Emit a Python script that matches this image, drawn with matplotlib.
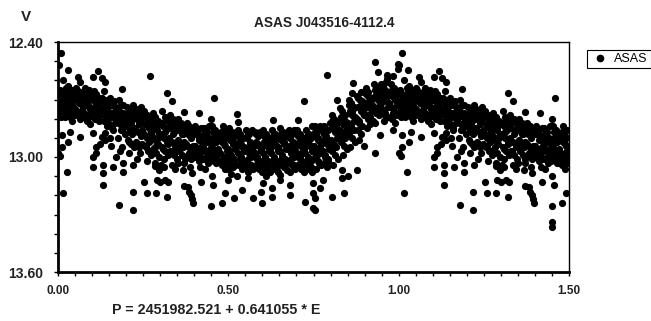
import numpy as np
import matplotlib.pyplot as plt
from matplotlib.lines import Line2D
from matplotlib.ticker import FixedLocator, MultipleLocator, FormatStrFormatter

# ---------------------------------------------------------------
# Data: phased V light curve, phase 0-1
# ---------------------------------------------------------------
title = "ASAS J043516-4112.4"
ephemeris = "P = 2451982.521 + 0.641055 * E"
series_name = "ASAS"
x_ticks = [0.0, 0.5, 1.0, 1.5]
y_ticks = [12.40, 13.00, 13.60]

# outer / scattered observations
phase = [
    .002, .009, .016, .004, .010, .018, .006, .013, .021, .003, .015, .023, .008, .020, .011, .011, .001, .006, .016, .024,
    .028, .030, .033, .027, .040, .045, .037, .030, .043, .048, .035, .042, .035, .030, .025, .047,
    .060, .065, .052, .058, .070, .055, .063, .072, .051, .068, .074, .057, .066, .065, .073,
    .078, .085, .092, .080, .088, .097, .083, .094, .077, .090, .099, .086, .095,
    .104, .118, .107, .112, .120, .102, .116, .109, .123, .105, .114, .121, .104, .113, .113, .104, .104, .123,
    .128, .138, .136, .131, .140, .146, .127, .135, .148, .143, .138, .128, .138, .133, .133, .133, .145,
    .152, .158, .165, .170, .155, .162, .172, .150, .160, .154, .168, .162, .170, .157,
    .187, .180, .192, .178, .185, .195, .182, .190, .198, .177, .183, .188, .192, .192, .180,
    .203, .212, .220, .206, .215, .224, .201, .210, .218, .205, .214, .222, .209, .221, .219, .219,
    .228, .236, .244, .231, .240, .248, .226, .235, .243, .230, .239, .247, .241, .233,
    .253, .262, .271, .256, .266, .274, .252, .260, .268, .257, .265, .273, .261, .253, .260,
    .278, .286, .295, .281, .290, .298, .276, .284, .293, .280, .289, .297, .285, .285, .296, .290, .287,
    .320, .305, .313, .322, .308, .317, .302, .311, .320, .306, .315, .324, .310, .303, .310, .300, .315, .324, .321,
    .335, .328, .338, .346, .331, .341, .349, .327, .336, .344, .330, .340, .348, .335, .344,
    .371, .353, .362, .370, .356, .366, .374, .352, .360, .368, .355, .364, .372, .351, .370, .368, .370,
    .378, .385, .393, .381, .389, .398, .377, .386, .395, .383, .391, .399, .387, .392, .382, .386, .390, .394, .397,
    .415, .403, .411, .420, .406, .415, .423, .401, .409, .418, .405, .413, .422, .417, .420,
    .449, .428, .436, .444, .431, .440, .448, .427, .435, .443, .430, .439, .447, .431, .449,
    .459, .453, .462, .470, .456, .465, .473, .452, .460, .468, .455, .464, .472, .451, .456,
    .483, .478, .487, .495, .481, .490, .498, .477, .486, .494, .480, .489, .497, .490, .480,
    .524, .503, .511, .519, .506, .514, .522, .501, .509, .517, .505, .513, .521, .500, .508, .500, .517,
    .529, .527, .535, .543, .530, .538, .546, .528, .536, .544, .532, .541, .549, .525, .539,
    .553, .561, .569, .556, .564, .572, .552, .560, .568, .555, .563, .571, .558, .557, .573,
    .578, .586, .594, .580, .589, .597, .577, .585, .593, .582, .590, .598, .596, .598,
    .603, .611, .619, .606, .614, .622, .601, .609, .617, .605, .613, .621, .603, .610,
    .632, .628, .636, .644, .631, .639, .647, .626, .634, .642, .630, .638, .646, .627, .627,
    .653, .661, .669, .656, .664, .672, .651, .659, .667, .655, .663, .671, .652, .652,
    .678, .686, .694, .681, .689, .697, .677, .685, .693, .680, .688, .696, .681, .681, .682,
    .722, .705, .703, .711, .719, .706, .714, .722, .701, .709, .717, .705, .713, .721, .725,
    .745, .728, .736, .744, .731, .739, .747, .726, .734, .742, .730, .738, .746, .749, .749, .749,
    .753, .761, .769, .756, .764, .772, .752, .760, .768, .755, .763, .771, .758, .769, .754, .754,
    .789, .780, .797, .778, .786, .794, .781, .789, .797, .777, .785, .793, .782, .790, .779,
    .818, .803, .811, .819, .806, .814, .822, .801, .809, .817, .805, .813, .821, .808, .803,
    .828, .835, .843, .830, .838, .846, .827, .834, .842, .849, .831, .839, .847, .836, .833, .833, .840,
    .867, .864, .853, .861, .869, .856, .864, .872, .852, .860, .868, .855, .863, .871, .858, .852,
    .890, .878, .886, .894, .881, .889, .897, .877, .885, .893, .880, .888, .898, .877, .883,
    .910, .903, .911, .919, .906, .914, .922, .901, .909, .917, .924, .906, .915,
    .930, .938, .928, .936, .944, .931, .939, .947, .927, .935, .943, .930, .945, .930, .948,
    .965, .965, .963, .953, .960, .968, .955, .963, .971, .952, .960, .968, .956, .973,
    .984, .999, .997, .978, .986, .994, .981, .989, .997, .977, .985, .993, .980, .988, .984,
]

mag = [
    12.52, 12.456, 12.60, 12.66, 12.68, 12.70, 12.72, 12.74, 12.67, 12.76, 12.77, 12.73, 12.79, 12.79, 12.885, 12.946, 12.98, 12.995, 13.19, 12.64,
    12.546, 12.63, 12.66, 12.69, 12.65, 12.70, 12.72, 12.75, 12.74, 12.77, 12.79, 12.81, 12.87, 12.92, 13.08, 12.68,
    12.58, 12.61, 12.64, 12.67, 12.66, 12.70, 12.72, 12.70, 12.75, 12.76, 12.74, 12.78, 12.80, 12.894, 12.79,
    12.64, 12.66, 12.65, 12.69, 12.71, 12.68, 12.73, 12.74, 12.77, 12.78, 12.76, 12.81, 12.83,
    12.58, 12.55, 12.654, 12.67, 12.69, 12.70, 12.72, 12.74, 12.75, 12.77, 12.79, 12.81, 12.876, 12.946, 12.98, 13.00, 13.05, 12.93,
    12.59, 12.61, 12.656, 12.70, 12.72, 12.74, 12.76, 12.78, 12.80, 12.84, 12.875, 12.894, 12.91, 13.04, 13.085, 13.146, 12.70,
    12.69, 12.72, 12.71, 12.75, 12.77, 12.79, 12.80, 12.83, 12.86, 12.90, 12.82, 13.054, 13.00, 12.94,
    12.645, 12.70, 12.73, 12.76, 12.78, 12.80, 12.83, 12.85, 12.88, 12.90, 12.97, 12.95, 13.03, 13.077, 13.25,
    12.74, 12.76, 12.73, 12.79, 12.81, 12.78, 12.84, 12.86, 12.88, 12.91, 12.93, 12.95, 12.98, 13.04, 13.18, 13.276,
    12.75, 12.77, 12.74, 12.80, 12.82, 12.79, 12.85, 12.87, 12.89, 12.92, 12.95, 12.93, 12.98, 13.01,
    12.76, 12.78, 12.80, 12.83, 12.85, 12.82, 12.88, 12.90, 12.92, 12.95, 12.97, 12.99, 13.02, 13.13, 13.19,
    12.77, 12.79, 12.81, 12.84, 12.86, 12.83, 12.89, 12.91, 12.93, 12.96, 12.98, 13.00, 13.03, 13.045, 13.07, 13.12, 13.19,
    12.668, 12.76, 12.79, 12.81, 12.84, 12.86, 12.88, 12.90, 12.92, 12.95, 12.97, 12.99, 13.01, 13.04, 13.05, 13.13, 13.12, 13.13, 13.21,
    12.71, 12.78, 12.80, 12.82, 12.85, 12.87, 12.84, 12.90, 12.92, 12.94, 12.97, 12.99, 13.01, 13.04, 13.06,
    12.764, 12.80, 12.82, 12.84, 12.86, 12.88, 12.86, 12.91, 12.93, 12.95, 12.97, 12.99, 13.01, 13.03, 13.03, 13.07, 13.15,
    12.82, 12.84, 12.86, 12.88, 12.90, 12.88, 12.93, 12.95, 12.97, 12.99, 13.01, 13.00, 13.05, 13.085, 13.155, 13.18, 13.20, 13.22, 13.24,
    12.77, 12.84, 12.86, 12.85, 12.88, 12.90, 12.92, 12.94, 12.96, 12.98, 13.00, 13.02, 13.01, 13.05, 13.13,
    12.80, 12.85, 12.87, 12.84, 12.89, 12.91, 12.93, 12.95, 12.97, 12.99, 13.01, 13.03, 13.02, 13.06, 13.255,
    12.69, 12.84, 12.86, 12.88, 12.90, 12.92, 12.90, 12.95, 12.97, 12.99, 13.01, 13.03, 13.02, 13.10, 13.146,
    12.84, 12.87, 12.89, 12.86, 12.92, 12.94, 12.96, 12.98, 13.00, 13.02, 13.04, 13.06, 13.03, 13.19, 13.24,
    12.776, 12.85, 12.87, 12.89, 12.91, 12.93, 12.95, 12.97, 12.99, 13.01, 13.03, 13.05, 13.04, 13.06, 13.09, 13.12, 13.215,
    12.816, 12.86, 12.88, 12.90, 12.92, 12.94, 12.96, 12.98, 13.00, 13.02, 13.04, 13.06, 13.05, 13.10, 13.17,
    12.86, 12.88, 12.86, 12.90, 12.92, 12.94, 12.96, 12.98, 13.00, 13.02, 13.04, 13.06, 13.08, 13.11, 13.215,
    12.87, 12.89, 12.87, 12.92, 12.94, 12.96, 12.98, 13.00, 13.02, 13.04, 13.06, 13.08, 13.18, 13.24,
    12.86, 12.88, 12.90, 12.92, 12.94, 12.96, 12.98, 13.00, 13.02, 13.04, 13.06, 13.08, 13.137, 13.10,
    12.807, 12.86, 12.88, 12.90, 12.92, 12.94, 12.96, 12.98, 13.00, 13.02, 13.04, 13.06, 13.08, 13.163, 13.207,
    12.85, 12.87, 12.89, 12.91, 12.93, 12.95, 12.97, 12.99, 13.01, 13.03, 13.05, 13.07, 13.094, 13.12,
    12.86, 12.88, 12.86, 12.90, 12.92, 12.94, 12.96, 12.98, 13.00, 13.02, 13.04, 13.06, 13.077, 13.146, 13.198,
    12.706, 12.807, 12.86, 12.88, 12.90, 12.92, 12.94, 12.96, 12.98, 13.00, 13.02, 13.04, 13.06, 13.08, 13.233,
    12.84, 12.86, 12.88, 12.90, 12.92, 12.94, 12.96, 12.98, 13.00, 13.02, 13.04, 13.06, 13.08, 13.137, 13.19, 13.268,
    12.84, 12.86, 12.84, 12.88, 12.90, 12.92, 12.94, 12.96, 12.98, 13.00, 13.02, 13.04, 13.06, 13.163, 13.215, 13.276,
    12.572, 12.84, 12.82, 12.87, 12.89, 12.86, 12.91, 12.93, 12.95, 12.97, 12.99, 13.01, 13.03, 13.05, 13.12,
    12.70, 12.78, 12.80, 12.82, 12.85, 12.87, 12.89, 12.91, 12.93, 12.95, 12.97, 12.99, 13.01, 13.04, 13.207,
    12.746, 12.76, 12.78, 12.80, 12.82, 12.84, 12.86, 12.88, 12.90, 12.87, 12.92, 12.94, 12.96, 12.99, 13.068, 13.11, 13.19,
    12.615, 12.668, 12.70, 12.72, 12.74, 12.76, 12.78, 12.80, 12.82, 12.84, 12.86, 12.88, 12.90, 12.92, 12.95, 13.10,
    12.66, 12.68, 12.70, 12.72, 12.74, 12.76, 12.78, 12.80, 12.82, 12.84, 12.86, 12.88, 12.94, 13.068, 12.91,
    12.66, 12.64, 12.68, 12.70, 12.72, 12.74, 12.76, 12.78, 12.80, 12.79, 12.81, 12.85, 12.83,
    12.503, 12.555, 12.62, 12.64, 12.66, 12.68, 12.70, 12.72, 12.74, 12.76, 12.78, 12.82, 12.885, 12.98, 12.62,
    12.57, 12.595, 12.61, 12.63, 12.65, 12.67, 12.69, 12.71, 12.73, 12.75, 12.77, 12.79, 12.81, 12.66,
    12.577, 12.515, 12.54, 12.62, 12.64, 12.66, 12.68, 12.70, 12.72, 12.74, 12.76, 12.78, 12.80, 12.82, 12.86,
]

# observations in the crowded core of the curve
core_phase = [
    .005, .013, .020, .009, .017, .022,
    .030, .038, .045, .034, .042, .047,
    .055, .063, .070, .059, .067, .072,
    .080, .088, .095, .084, .092, .097,
    .105, .113, .120, .109, .117, .122,
    .130, .138, .145, .134, .142, .147,
    .155, .163, .170, .159, .167, .172,
    .180, .188, .195, .184, .192, .197,
    .205, .213, .220, .209, .217, .222,
    .230, .238, .245, .234, .242, .247,
    .255, .263, .270, .259, .267, .272,
    .280, .288, .295, .284, .292, .297,
    .305, .313, .320, .309, .317, .322,
    .330, .338, .345, .334, .342, .347,
    .355, .363, .370, .359, .367, .372,
    .380, .388, .395, .384, .392, .397,
    .405, .413, .420, .409, .417, .422,
    .430, .438, .445, .434, .442, .447,
    .455, .463, .470, .459, .467, .472,
    .480, .488, .495, .484, .492, .497,
    .505, .513, .520, .509, .517, .522,
    .530, .538, .545, .534, .542, .547,
    .555, .563, .570, .559, .567, .572,
    .580, .588, .595, .584, .592, .597,
    .605, .613, .620, .609, .617, .622,
    .630, .638, .645, .634, .642, .647,
    .655, .663, .670, .659, .667, .672,
    .680, .688, .695, .684, .692, .697,
    .705, .713, .720, .709, .717, .722,
    .730, .738, .745, .734, .742, .747,
    .755, .763, .770, .759, .767, .772,
    .780, .788, .795, .784, .792, .797,
    .805, .813, .820, .809, .817, .822,
    .830, .838, .845, .834, .842, .847,
    .855, .863, .870, .859, .867, .872,
    .880, .888, .895, .884, .892, .897,
    .905, .913, .920, .909, .917, .922,
    .930, .938, .945, .934, .942, .947,
    .955, .963, .970, .959, .967, .972,
    .980, .988, .995, .984, .992, .997,
]

core_mag = [
    12.65, 12.69, 12.71, 12.75, 12.73, 12.77,
    12.67, 12.71, 12.68, 12.76, 12.73, 12.78,
    12.65, 12.69, 12.73, 12.77, 12.68, 12.72,
    12.67, 12.70, 12.75, 12.72, 12.79, 12.67,
    12.69, 12.72, 12.76, 12.80, 12.73, 12.78,
    12.69, 12.73, 12.77, 12.81, 12.75, 12.79,
    12.73, 12.77, 12.81, 12.85, 12.74, 12.78,
    12.74, 12.79, 12.82, 12.86, 12.77, 12.81,
    12.77, 12.82, 12.87, 12.92, 12.80, 12.85,
    12.78, 12.83, 12.88, 12.93, 12.81, 12.86,
    12.79, 12.84, 12.89, 12.94, 12.81, 12.87,
    12.80, 12.85, 12.90, 12.95, 12.82, 12.88,
    12.82, 12.87, 12.91, 12.96, 12.85, 12.93,
    12.83, 12.88, 12.93, 12.97, 12.86, 12.95,
    12.83, 12.88, 12.92, 12.96, 12.85, 12.94,
    12.85, 12.89, 12.94, 12.98, 12.87, 12.96,
    12.87, 12.91, 12.95, 12.99, 12.89, 12.97,
    12.88, 12.92, 12.96, 13.00, 12.90, 12.98,
    12.87, 12.91, 12.96, 13.00, 12.89, 12.98,
    12.88, 12.93, 12.97, 13.01, 12.90, 12.99,
    12.88, 12.92, 12.96, 13.00, 13.03, 12.94,
    12.89, 12.93, 12.97, 13.01, 13.03, 12.95,
    12.89, 12.93, 12.97, 13.01, 13.04, 12.95,
    12.88, 12.93, 12.97, 13.01, 13.05, 12.95,
    12.89, 12.93, 12.97, 13.01, 13.05, 12.95,
    12.89, 12.93, 12.97, 13.01, 13.05, 12.95,
    12.88, 12.92, 12.96, 13.00, 13.04, 12.94,
    12.89, 12.93, 12.97, 13.01, 13.04, 12.95,
    12.89, 12.93, 12.97, 13.01, 13.05, 12.95,
    12.89, 12.93, 12.97, 13.01, 13.05, 12.95,
    12.87, 12.91, 12.95, 12.99, 13.03, 12.93,
    12.88, 12.92, 12.96, 13.00, 13.02, 12.94,
    12.81, 12.86, 12.90, 12.94, 12.84, 12.88,
    12.79, 12.83, 12.87, 12.91, 12.81, 12.85,
    12.73, 12.77, 12.81, 12.85, 12.75, 12.79,
    12.69, 12.73, 12.77, 12.81, 12.71, 12.75,
    12.67, 12.71, 12.75, 12.78, 12.69, 12.73,
    12.65, 12.69, 12.73, 12.77, 12.67, 12.71,
    12.66, 12.70, 12.74, 12.78, 12.68, 12.72,
    12.65, 12.69, 12.73, 12.77, 12.67, 12.71,
]

# points seen only in the first cycle / only in the repeated half cycle
first_only_phase = [0.270]
first_only_mag = [12.577]
repeat_only_phase = [1.449, 1.449]
repeat_only_mag = [13.337, 13.363]

assert len(phase) == len(mag)
assert len(core_phase) == len(core_mag)

# ---------------------------------------------------------------
# Build plotted series: phase 0-1 plus repeat of 0-0.5 at 1-1.5
# ---------------------------------------------------------------
ph = np.concatenate([phase, core_phase])
mg = np.concatenate([mag, core_mag])
rep = ph < 0.5
x = np.concatenate([ph, ph[rep] + 1.0, first_only_phase, repeat_only_phase])
y = np.concatenate([mg, mg[rep], first_only_mag, repeat_only_mag])

# ---------------------------------------------------------------
# Plot
# ---------------------------------------------------------------
bold_font = ['Liberation Sans', 'DejaVu Sans']
W, H = 651, 321

fig = plt.figure(figsize=(W / 100, H / 100), dpi=100)
ax = fig.add_axes([58 / W, 1 - 272 / H, 511 / W, 230 / H])

ax.plot(x, y, 'o', color='black', markersize=5.2, markeredgewidth=0, linestyle='none')

ax.set_xlim(0, 1.5)
ax.set_ylim(13.6, 12.4)

ax.xaxis.set_major_locator(FixedLocator(x_ticks))
ax.yaxis.set_major_locator(FixedLocator(y_ticks))
ax.xaxis.set_minor_locator(MultipleLocator(0.05))
ax.yaxis.set_minor_locator(MultipleLocator(0.1))
ax.xaxis.set_major_formatter(FormatStrFormatter('%.2f'))
ax.yaxis.set_major_formatter(FormatStrFormatter('%.2f'))
ax.tick_params(which='both', direction='out', length=3, width=1, color='black')
ax.tick_params(axis='x', which='major', pad=6)
ax.tick_params(axis='y', which='major', pad=8)

for lab in ax.get_xticklabels():
    lab.set_family(bold_font)
    lab.set_fontweight('bold')
    lab.set_fontsize(8.5)
    lab.set_color('#222222')
for lab in ax.get_yticklabels():
    lab.set_family(bold_font)
    lab.set_fontweight('bold')
    lab.set_fontsize(10)
    lab.set_color('#222222')

ax.spines['left'].set_linewidth(2)
ax.spines['bottom'].set_linewidth(2)
ax.spines['top'].set_linewidth(1)
ax.spines['right'].set_linewidth(1)

fig.text(324 / W, 1 - 23 / H, title, ha='center', va='center', family=bold_font,
         fontweight='bold', fontsize=9.8, color='#222222')
fig.text(26 / W, 1 - 17 / H, "V", ha='center', va='center', family=bold_font,
         fontweight='bold', fontsize=11, color='#222222')
fig.text(216 / W, 1 - 310 / H, ephemeris, ha='center', va='center', family=bold_font,
         fontweight='bold', fontsize=10.3, color='#222222')

handle = Line2D([], [], marker='o', color='black', markersize=4.5, linestyle='none')
leg = fig.legend([handle], [series_name], loc='upper left',
                 bbox_to_anchor=(587 / W, 1 - 50 / H), frameon=True, fancybox=False,
                 edgecolor='black', framealpha=1, borderpad=0.25, handlelength=1.5,
                 handletextpad=0.4, borderaxespad=0,
                 prop={'family': 'Liberation Sans', 'size': 9})
leg.get_frame().set_linewidth(0.8)

fig.savefig('out.png', dpi=100)
